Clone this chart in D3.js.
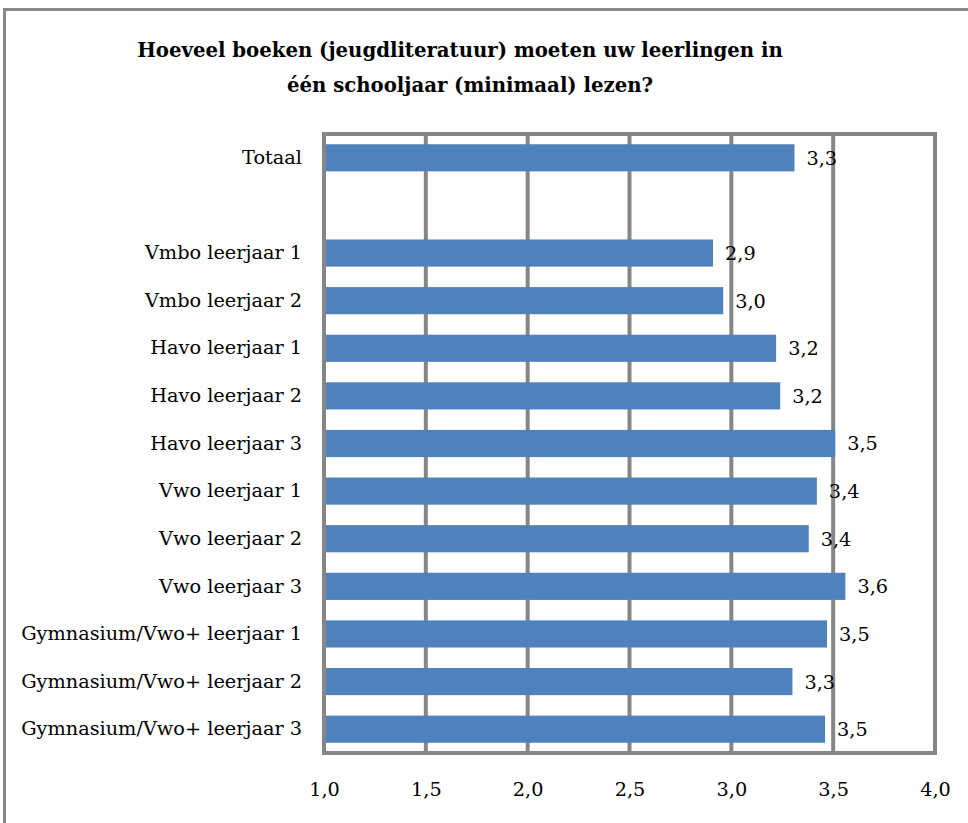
<!doctype html>
<html>

<head>
  <meta charset="utf-8">
  <title>Boeken per schooljaar</title>
  <script src="https://cdnjs.cloudflare.com/ajax/libs/d3/7.8.5/d3.min.js"></script>
  <style>
    body {
      margin: 0;
      background: #fff;
    }

    svg text {
      font-family: 'DejaVu Serif', serif;
      fill: #000;
    }

    .title {
      font-weight: bold;
      font-size: 19.7px;
    }

    .y-axis text,
    .x-axis text,
    .value {
      font-size: 19.3px;
    }
  </style>
</head>

<body>
  <div id="chart"></div>

  <script>
    // data
    var categories = ["Totaal", " ", "Vmbo leerjaar 1", "Vmbo leerjaar 2", "Havo leerjaar 1", "Havo leerjaar 2",
      "Havo leerjaar 3", "Vwo leerjaar 1", "Vwo leerjaar 2", "Vwo leerjaar 3",
      "Gymnasium/Vwo+ leerjaar 1", "Gymnasium/Vwo+ leerjaar 2", "Gymnasium/Vwo+ leerjaar 3"];
    var values = [3.31, null, 2.91, 2.96, 3.22, 3.24, 3.51, 3.42, 3.38, 3.56, 3.47, 3.30, 3.46];
    var xTicks = [1.0, 1.5, 2.0, 2.5, 3.0, 3.5, 4.0];
    var titleLines = ["Hoeveel boeken (jeugdliteratuur) moeten uw leerlingen in", "één schooljaar (minimaal) lezen?"];

    var width = 968;
    var height = 823;
    var plot = { left: 324, right: 935, top: 134, bottom: 753 };

    var nl = d3.formatLocale({ decimal: ",", thousands: ".", grouping: [3], currency: ["€", ""] });
    var fmt = nl.format(".1f");

    var rows = categories.map((c, i) => ({ cat: c, value: values[i] }));

    var x = d3.scaleLinear().domain([1, 4]).range([plot.left, plot.right]);
    var y = d3.scaleBand().domain(categories).range([plot.top, plot.bottom])
      .paddingInner(0.43).paddingOuter(0.215);

    var svg = d3.select("#chart").append("svg").attr("width", width).attr("height", height);

    // outer frame
    svg.append("rect")
      .attr("x", 4.5).attr("y", 9.5)
      .attr("width", width + 10).attr("height", height + 10)
      .attr("fill", "none").attr("stroke", "#888888").attr("stroke-width", 3);

    // title
    svg.append("g").selectAll("text")
      .data(titleLines)
      .join("text")
      .attr("class", "title")
      .attr("x", (d, i) => i === 0 ? 460 : 470)
      .attr("y", (d, i) => 57 + i * 35)
      .attr("text-anchor", "middle")
      .text(d => d);

    // gridlines
    svg.append("g").selectAll("line")
      .data(xTicks.slice(1, -1))
      .join("line")
      .attr("x1", d => x(d)).attr("x2", d => x(d))
      .attr("y1", plot.top).attr("y2", plot.bottom)
      .attr("stroke", "#868686").attr("stroke-width", 4);

    // bars
    svg.append("g").selectAll("rect")
      .data(rows.filter(d => d.value != null))
      .join("rect")
      .attr("x", x(1))
      .attr("y", d => y(d.cat))
      .attr("width", d => x(d.value) - x(1))
      .attr("height", y.bandwidth())
      .attr("fill", "#4f81bd");

    // value labels
    svg.append("g").selectAll("text")
      .data(rows.filter(d => d.value != null))
      .join("text")
      .attr("class", "value")
      .attr("x", d => x(d.value) + 12)
      .attr("y", d => y(d.cat) + y.bandwidth() / 2)
      .attr("dy", "0.36em")
      .text(d => fmt(d.value));

    // plot border
    svg.append("rect")
      .attr("x", plot.left).attr("y", plot.top)
      .attr("width", plot.right - plot.left).attr("height", plot.bottom - plot.top)
      .attr("fill", "none").attr("stroke", "#868686").attr("stroke-width", 4);

    // axes
    svg.append("g")
      .attr("class", "y-axis")
      .attr("transform", `translate(${plot.left},0)`)
      .call(d3.axisLeft(y).tickSize(0).tickPadding(22))
      .call(g => g.select(".domain").remove())
      .call(g => g.selectAll("text").attr("font-family", null).attr("font-size", null));

    svg.append("g")
      .attr("class", "x-axis")
      .attr("transform", `translate(0,${plot.bottom})`)
      .call(d3.axisBottom(x).tickValues(xTicks).tickFormat(fmt).tickSize(0).tickPadding(29))
      .call(g => g.select(".domain").remove())
      .call(g => g.selectAll("text").attr("font-family", null).attr("font-size", null));
  </script>
</body>

</html>
